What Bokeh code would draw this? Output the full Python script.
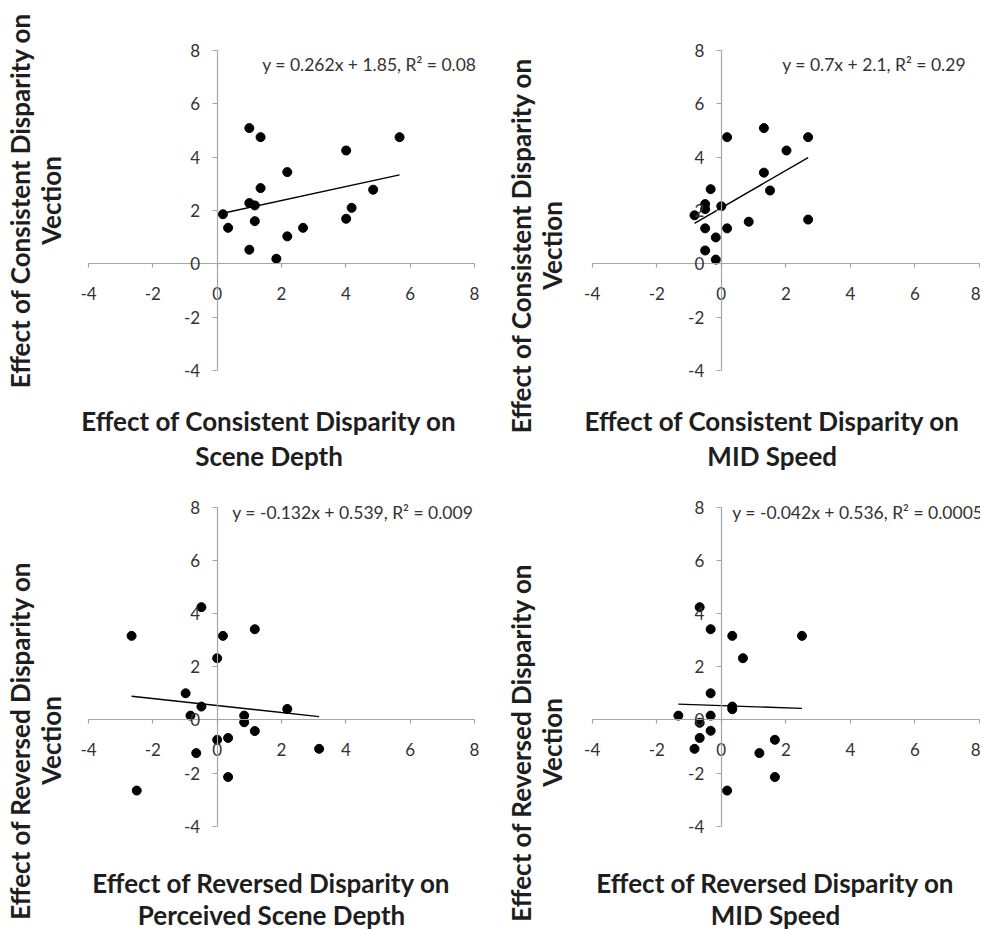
import numpy as np
from bokeh.plotting import figure
from bokeh.models import Range1d, FixedTicker, Label
from bokeh.layouts import gridplot
from bokeh.embed import file_html
from bokeh.resources import INLINE

# ---------------- data ----------------
ticks = [-4, -2, 0, 2, 4, 6, 8]
tick_text = {t: str(t) for t in ticks}

# Panel A: consistent disparity - scene depth (x) vs vection (y)
a_x = [1.00, 1.35, 4.01, 5.67, 2.18, 1.35, 4.85, 1.00, 1.17, 4.18, 0.18, 4.01, 1.17, 0.34, 2.67, 2.18, 1.00, 1.84]
a_y = [5.09, 4.75, 4.25, 4.75, 3.44, 2.84, 2.78, 2.28, 2.19, 2.10, 1.86, 1.69, 1.60, 1.35, 1.35, 1.03, 0.53, 0.19]

# Panel B: consistent disparity - MID speed (x) vs vection (y)
b_x = [-0.83, -0.50, -0.50, -0.33, 0.00, 0.18, 1.32, 2.02, 2.69, 1.32, 1.51, 0.85, 2.69, -0.50, 0.18, -0.17, -0.50, -0.17]
b_y = [1.82, 2.24, 2.05, 2.80, 2.16, 4.75, 5.09, 4.25, 4.75, 3.42, 2.75, 1.58, 1.66, 1.33, 1.33, 0.99, 0.50, 0.16]

# Panel C: reversed disparity - perceived scene depth (x) vs vection (y)
c_x = [-2.66, -0.49, 0.18, 1.17, 0.00, -0.98, -0.49, -0.83, 2.18, 0.84, 0.84, 1.17, 0.00, 0.34, -0.65, 3.17, 0.34, -2.50]
c_y = [3.16, 4.24, 3.16, 3.41, 2.32, 1.00, 0.50, 0.16, 0.41, 0.16, -0.09, -0.42, -0.75, -0.68, -1.25, -1.09, -2.15, -2.66]

# Panel D: reversed disparity - MID speed (x) vs vection (y)
d_x = [-0.67, -0.33, 0.34, 2.50, 0.67, -0.33, 0.34, 0.34, -1.33, -0.33, -0.67, -0.33, -0.67, 1.66, -0.83, 1.18, 1.66, 0.18]
d_y = [4.24, 3.41, 3.16, 3.16, 2.32, 1.00, 0.50, 0.40, 0.16, 0.16, -0.11, -0.41, -0.68, -0.75, -1.09, -1.25, -2.15, -2.66]

slopes = [0.262, 0.7, -0.132, -0.042]
intercepts = [1.85, 2.1, 0.539, 0.536]
equations = [
    "y = 0.262x + 1.85, R\u00b2 = 0.08",
    "y = 0.7x + 2.1, R\u00b2 = 0.29",
    "y = -0.132x + 0.539, R\u00b2 = 0.009",
    "y = -0.042x + 0.536, R\u00b2 = 0.0005",
]
x_titles = [
    ["Effect of Consistent Disparity on", "Scene Depth"],
    ["Effect of Consistent Disparity on", "MID Speed"],
    ["Effect of Reversed Disparity on", "Perceived Scene Depth"],
    ["Effect of Reversed Disparity on", "MID Speed"],
]
y_titles = [
    ["Effect of Consistent Disparity on", "Vection"],
    ["Effect of Consistent Disparity on", "Vection"],
    ["Effect of Reversed Disparity on", "Vection"],
    ["Effect of Reversed Disparity on", "Vection"],
]
xs_all = [a_x, b_x, c_x, d_x]
ys_all = [a_y, b_y, c_y, d_y]

# ---------------- layout / style ----------------
FONT = "Lato"
AXIS_COL = "#a6a6a6"
TICK_COL = "#333333"
TITLE_COL = "#1e1e1e"
TITLE_SIZE = "26px"

COL_W = [484, 496]
ROW_H = [490, 439]
COL_X0 = [0, 484]
ROW_Y0 = [0, 490]
# page pixel positions of axis extents (-4 .. 8)
AX_X = [(88.0, 474.0), (591.7, 979.0)]
AX_Y = [(50.0, 370.0), (506.7, 825.7)]   # (pixel of +8, pixel of -4)

# label anchor positions in page pixels
eq_px = [(261.7, 63.5), (781.7, 63.5), (231.7, 511.7), (731.7, 511.7)]
xt_px = [(268.5, 420.5, 455.5), (771.7, 420.5, 455.5), (271.0, 882.0, 914.0), (775.0, 882.0, 914.0)]
yt_px = [(19.0, 50.0, 200.0), (520.0, 551.0, 245.0), (19.0, 50.0, 740.0), (520.0, 551.0, 742.0)]


def make_panel(i):
    col, row = i % 2, i // 2
    W, H = COL_W[col], ROW_H[row]
    gx0, gy0 = COL_X0[col], ROW_Y0[row]
    (xa, xb), (ya, yb) = AX_X[col], AX_Y[row]
    sx = (xb - xa) / 12.0
    sy = (yb - ya) / 12.0

    def dx(px):
        return -4 + (px - xa) / sx

    def dy(py):
        return 8 - (py - ya) / sy

    p = figure(width=W, height=H,
               x_range=Range1d(dx(gx0), dx(gx0 + W)),
               y_range=Range1d(dy(gy0 + H), dy(gy0)),
               output_backend="svg", toolbar_location=None,
               min_border=0, min_border_left=0, min_border_right=0,
               min_border_top=0, min_border_bottom=0)
    p.outline_line_color = None
    p.grid.visible = False
    p.background_fill_color = "white"
    p.border_fill_color = "white"

    p.xaxis.fixed_location = 0
    p.yaxis.fixed_location = 0
    for ax in (p.xaxis[0], p.yaxis[0]):
        ax.ticker = FixedTicker(ticks=ticks)
        ax.bounds = (-4, 8)
        ax.major_label_overrides = tick_text
        ax.axis_line_color = AXIS_COL
        ax.axis_line_width = 1.2
        ax.major_tick_line_color = AXIS_COL
        ax.major_tick_line_width = 1.2
        ax.minor_tick_line_color = None
        ax.major_tick_in = 0
        ax.major_label_text_font = FONT
        ax.major_label_text_font_size = "17px"
        ax.major_label_text_color = TICK_COL
    p.xaxis.major_tick_out = 4
    p.xaxis.major_label_standoff = 19
    p.yaxis.major_tick_out = 5
    p.yaxis.major_label_standoff = 12

    xs, ys = xs_all[i], ys_all[i]
    x0, x1 = min(xs), max(xs)
    m, b = slopes[i], intercepts[i]
    p.line([x0, x1], [m * x0 + b, m * x1 + b], line_color="black", line_width=1.4)
    p.scatter(xs, ys, size=9, fill_color="black", line_color="black")

    ex, ey = eq_px[i]
    p.add_layout(Label(x=dx(ex), y=dy(ey), text=equations[i], text_font=FONT,
                       text_font_size="17.5px", text_color=TICK_COL,
                       text_align="left", text_baseline="middle"))

    cx, b1, b2 = xt_px[i]
    for txt, yy in zip(x_titles[i], (b1, b2)):
        p.add_layout(Label(x=dx(cx), y=dy(yy), text=txt, text_font=FONT, text_font_size=TITLE_SIZE,
                           text_font_style="bold", text_color=TITLE_COL,
                           text_align="center", text_baseline="alphabetic"))
    l1, l2, cy = yt_px[i]
    for txt, xx in zip(y_titles[i], (l1, l2)):
        p.add_layout(Label(x=dx(xx), y=dy(cy), text=txt, text_font=FONT, text_font_size=TITLE_SIZE,
                           text_font_style="bold", text_color=TITLE_COL,
                           text_align="center", text_baseline="middle", angle=np.pi / 2))
    return p


panels = [make_panel(i) for i in range(4)]
grid = gridplot([[panels[0], panels[1]], [panels[2], panels[3]]], toolbar_location=None)

open("out.html", "w").write(file_html(grid, INLINE))
